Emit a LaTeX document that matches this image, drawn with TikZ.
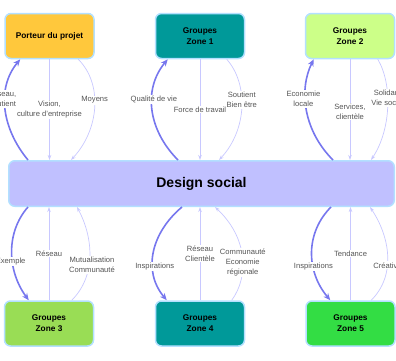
\documentclass[tikz,border=0pt]{standalone}
\usepackage{fontspec}
\setmainfont{Liberation Sans}
\usetikzlibrary{arrows.meta}
\definecolor{bordc}{HTML}{B3E0FF}
\definecolor{thickc}{HTML}{7777EE}
\definecolor{thinc}{HTML}{C8C8FF}
\definecolor{lblc}{HTML}{555555}
\definecolor{orangec}{HTML}{FFC83C}
\definecolor{tealc}{HTML}{009999}
\definecolor{lgreenc}{HTML}{CCFF88}
\definecolor{mgreenc}{HTML}{99DD55}
\definecolor{greenc}{HTML}{33DD44}
\definecolor{designc}{HTML}{C0C0FF}
\begin{document}
\begin{tikzpicture}[x=1pt,y=-1pt,
  box/.style={draw=bordc, line width=1.5pt, rounded corners=6pt,
    font=\fontsize{8.3}{11}\selectfont\bfseries, align=center,
    minimum width=89pt, minimum height=45pt, inner sep=0pt},
  strong/.style={draw=thickc, line width=1.6pt, -{Stealth[length=7pt,width=6pt]}},
  weak/.style={draw=thinc, line width=0.7pt, -{Stealth[length=5pt,width=3.5pt]}},
  lbl/.style={fill=white, inner sep=1pt, text=lblc,
    font=\fontsize{7.6}{10}\selectfont, align=center}]
\useasboundingbox (0,0) rectangle (396,360);

% nodes
\node[box, fill=orangec] (p) at (49.5,36) {Porteur du projet};
\node[box, fill=tealc] (z1) at (200,36) {Groupes\\Zone 1};
\node[box, fill=lgreenc] (z2) at (350,36) {Groupes\\Zone 2};
\node[box, fill=designc, minimum width=385.5pt, minimum height=45.5pt,
  font=\fontsize{14}{16}\selectfont\bfseries] (ds) at (201.5,183.5) {Design social};
\node[box, fill=mgreenc] (z3) at (49,323.5) {Groupes\\Zone 3};
\node[box, fill=tealc] (z4) at (200,323.5) {Groupes\\Zone 4};
\node[box, fill=greenc] (z5) at (350.5,323.5) {Groupes\\Zone 5};

% Porteur du projet
\draw[strong] ([xshift=20]ds.north west) .. controls +(-25,-30) and +(-25,30) .. ([xshift=16]p.south west)
  node[lbl,pos=.6,xshift=-3] (l1) {Réseau,\\Soutient};
\draw[weak] (p.south) -- (p.south |- ds.north)
  node[lbl,midway] (l2) {Vision,\\culture d'entreprise};
\draw[weak] ([xshift=74]p.south west) .. controls +(25,25) and +(28,-30) .. ([xshift=63]ds.north west)
  node[lbl,pos=.43] (l3) {Moyens};

% Zone 1
\draw[strong] ([xshift=170]ds.north west) .. controls +(-30,-30) and +(-25,30) .. ([xshift=13]z1.south west)
  node[lbl,pos=.6,xshift=2] (l4) {Qualité de vie};
\draw[weak] (z1.south) -- (z1.south |- ds.north)
  node[lbl,midway] (l5) {Force de travail};
\draw[weak] ([xshift=72]z1.south west) .. controls +(22,25) and +(28,-30) .. ([xshift=211]ds.north west)
  node[lbl,pos=.43] (l6) {Soutient\\Bien être};

% Zone 2
\draw[strong] ([xshift=325]ds.north west) .. controls +(-30,-30) and +(-15,30) .. ([xshift=9]z2.south west)
  node[lbl,pos=.6,xshift=-2] (l7) {Economie\\locale};
\draw[weak] (z2.south) -- (z2.south |- ds.north)
  node[lbl,pos=.52] (l8) {Services,\\clientèle};
\draw[weak] ([xshift=73]z2.south west) .. controls +(15,25) and +(20,-30) .. ([xshift=363]ds.north west)
  node[lbl,pos=.41,xshift=2] (l9) {Solidarité\\Vie sociale};

% Zone 3
\draw[strong] ([xshift=20]ds.south west) .. controls +(-22,25) and +(-22,-30) .. ([xshift=25]z3.north west)
  node[lbl,pos=.6,xshift=-2] (l10) {Exemple};
\draw[weak] (z3.north) -- (z3.north |- ds.south)
  node[lbl,midway] (l11) {Réseau};
\draw[weak] ([xshift=68]z3.north west) .. controls +(25,-25) and +(16,30) .. ([xshift=69]ds.south west)
  node[lbl,pos=.4,xshift=3] (l12) {Mutualisation\\Communauté};

% Zone 4
\draw[strong] ([xshift=174]ds.south west) .. controls +(-30,25) and +(-25,-30) .. ([xshift=12]z4.north west)
  node[lbl,pos=.65,xshift=2] (l13) {Inspirations};
\draw[weak] (z4.north) -- (z4.north |- ds.south)
  node[lbl,midway] (l14) {Réseau\\Clientèle};
\draw[weak] ([xshift=77]z4.north west) .. controls +(18,-25) and +(32,30) .. ([xshift=207]ds.south west)
  node[lbl,pos=.43] (l15) {Communauté\\Economie\\régionale};

% Zone 5
\draw[strong] ([xshift=323]ds.south west) .. controls +(-25,25) and +(-25,-30) .. ([xshift=25]z5.north west)
  node[lbl,pos=.65] (l16) {Inspirations};
\draw[weak] (z5.north) -- (z5.north |- ds.south)
  node[lbl,midway] (l17) {Tendance};
\draw[weak] ([xshift=66]z5.north west) .. controls +(25,-25) and +(20,30) .. ([xshift=362]ds.south west)
  node[lbl,pos=.4,xshift=2] (l18) {Créativité};
\end{tikzpicture}
\end{document}
